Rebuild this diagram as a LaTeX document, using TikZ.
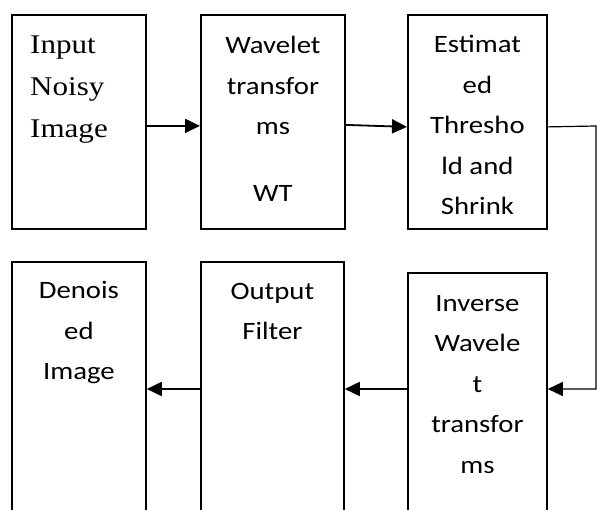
\documentclass[tikz,border=0pt]{standalone}
\usepackage{fontspec}
\newfontfamily\calfont[FakeStretch=1.15]{Carlito}
\newfontfamily\tnrfont[FakeStretch=1.15]{Liberation Serif}
\usetikzlibrary{arrows.meta,positioning}

\begin{document}
\begin{tikzpicture}[
        x=1pt, y=-1pt,
        stagebox/.style = {draw,
            line width=1.8pt,
            inner sep=0pt,
            anchor=north west,
        },
        stagetext/.style = {anchor=base,
            align=center,
            inner sep=0pt,
            font=\calfont\fontsize{25}{40.5}\selectfont,
        },
        flow/.style = {line width=1.8pt, -{Triangle[length=15pt,width=14pt]}},
        feedback/.style = {line width=1.2pt, -{Triangle[length=15pt,width=14pt]}},
    ]
    \useasboundingbox (0,0) rectangle (597,510);
    \clip (0,0) rectangle (597,510);
    % first row
    \node[stagebox, minimum width=134pt, minimum height=214pt] (input) at (11,14) {};
    \node[stagebox, minimum width=144pt, minimum height=214pt] (wt) at (200,14) {};
    \node[stagebox, minimum width=139pt, minimum height=214pt] (thr) at (407,14) {};
    % second row, cut at the bottom
    \node[stagebox, minimum width=134pt, minimum height=280pt] (denoised) at (11,261) {};
    \node[stagebox, minimum width=143pt, minimum height=280pt] (filter) at (200,261) {};
    \node[stagebox, minimum width=139pt, minimum height=270pt] (iwt) at (407,272) {};
    % texts (anchored at the baseline of their last line)
    \node[stagetext, anchor=base west, align=left,
          font=\tnrfont\fontsize{27}{42}\selectfont] (inputtxt) at (30,138) {Input\\Noisy\\Image};
    \node[stagetext] (wttxt) at ([yshift=-188pt]wt.north) {Wavelet\\transfor\\ms\\[26.5pt]WT};
    \node[stagetext] (thrtxt) at ([yshift=-201pt]thr.north) {Estimat\\ed\\Thresho\\ld and\\Shrink};
    \node[stagetext] (denoisedtxt) at ([yshift=-119pt]denoised.north) {Denois\\ed\\Image};
    \node[stagetext] (filtertxt) at ([yshift=-79pt]filter.north) {Output\\Filter};
    \node[stagetext] (iwttxt) at ([yshift=-201pt]iwt.north) {Inverse\\Wavele\\t\\transfor\\ms};
    % connectors
    \coordinate (rail) at (596,126);
    \coordinate (lower) at (0,389);
    \draw[flow] ([yshift=-4pt]input.east) -- ([yshift=-4pt]wt.west);
    \draw[flow] ([yshift=-3pt]wt.east) -- ([yshift=-5pt]thr.west);
    \draw[feedback] ([yshift=-5pt]thr.east) -- (rail) |- (iwt.east |- lower);
    \draw[flow] (iwt.west |- lower) -- (filter.east |- lower);
    \draw[flow] (filter.west |- lower) -- (denoised.east |- lower);
\end{tikzpicture}
\end{document}
